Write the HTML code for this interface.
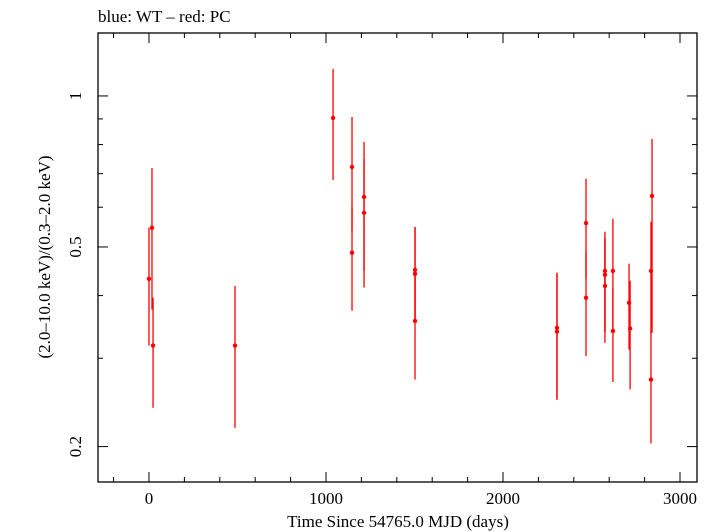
<!DOCTYPE html>
<html><head><meta charset="utf-8"><style>
html,body{margin:0;padding:0;background:#fff;}
svg{display:block;font-family:"Liberation Serif",serif;}
</style></head><body>
<svg id="chart" width="714" height="532" viewBox="0 0 714 532" xmlns="http://www.w3.org/2000/svg">
<text x="98" y="22" font-size="17">blue: WT – red: PC</text>
<rect x="98" y="33" width="599" height="449" fill="none" stroke="#000" stroke-width="1.3"/>
<g id="ticks"></g>
<g id="marks"></g>
<text x="398" y="527" font-size="17" text-anchor="middle">Time Since 54765.0 MJD (days)</text>
<text transform="translate(50,257) rotate(-90)" font-size="17" text-anchor="middle">(2.0–10.0 keV)/(0.3–2.0 keV)</text>
</svg>
<script>
const times=[0,17,23,486,1040,1147,1147,1215,1215,1503,1503,1503,2305,2305,2469,2469,2576,2576,2576,2621,2621,2712,2718,2842,2836,2836];
const ratios=[0.432,0.546,0.318,0.318,0.904,0.722,0.487,0.629,0.585,0.450,0.442,0.356,0.345,0.339,0.558,0.396,0.440,0.448,0.418,0.448,0.340,0.387,0.344,0.632,0.448,0.272];
const errLow=[0.318,0.375,0.239,0.218,0.680,0.538,0.373,0.415,0.448,0.358,0.358,0.272,0.248,0.248,0.432,0.303,0.322,0.339,0.339,0.342,0.269,0.312,0.260,0.337,0.337,0.203];
const errHigh=[0.546,0.719,0.396,0.418,1.132,0.908,0.601,0.810,0.749,0.548,0.548,0.446,0.444,0.444,0.684,0.487,0.536,0.521,0.521,0.569,0.413,0.463,0.428,0.821,0.561,0.340];
const xMajorTicks=[0,1000,2000,3000];
const yMajorTicks=[1,0.5,0.2];
const yMinorTicks=[0.9,0.8,0.7,0.6,0.4,0.3];
const X0=98,X1=697,Y0=33,Y1=482,TMIN=-288,TMAX=3096,VMIN=0.170,VMAX=1.335;
const NS="http://www.w3.org/2000/svg";
function xs(t){return X0+(t-TMIN)/(TMAX-TMIN)*(X1-X0);}
function ys(v){return Y1-(Math.log10(v)-Math.log10(VMIN))/(Math.log10(VMAX)-Math.log10(VMIN))*(Y1-Y0);}
function mk(tag,attrs,parent){const e=document.createElementNS(NS,tag);for(const k in attrs)e.setAttribute(k,attrs[k]);parent.appendChild(e);return e;}
const tg=document.getElementById('ticks');
for(let t=-200;t<=3000;t+=200){
  const major=xMajorTicks.includes(t);const L=major?10:5;const x=xs(t);
  const a=mk('line',{x1:x,x2:x,y1:Y1,y2:Y1-L,stroke:'#000','stroke-width':1},tg);
  
  
  const b=mk('line',{x1:x,x2:x,y1:Y0,y2:Y0+L,stroke:'#000','stroke-width':1},tg);
  
  
  if(major){const tx=mk('text',{x:x,y:Y1+22,'font-size':17,'text-anchor':'middle'},tg);tx.textContent=t;
    
    }
}
yMajorTicks.concat(yMinorTicks).forEach(v=>{
  const major=yMajorTicks.includes(v);const L=major?10:5;const y=ys(v);
  const a=mk('line',{x1:X0,x2:X0+L,y1:y,y2:y,stroke:'#000','stroke-width':1},tg);
  
  
  const b=mk('line',{x1:X1,x2:X1-L,y1:y,y2:y,stroke:'#000','stroke-width':1},tg);
  
  
  if(major){const tx=mk('text',{transform:`translate(${X0-17},${y}) rotate(-90)`,'font-size':17,'text-anchor':'middle'},tg);tx.textContent=v;
    
    }
});
const mg=document.getElementById('marks');
times.forEach((t,i)=>{
  const x=xs(t);
  const l=mk('line',{x1:x,x2:x,y1:ys(errHigh[i]),y2:ys(errLow[i]),stroke:'#ff0000','stroke-width':1.3},mg);
  
  
  const c=mk('circle',{cx:x,cy:ys(ratios[i]),r:2.2,fill:'#ff0000'},mg);
  
  
});
</script>
</body></html>
